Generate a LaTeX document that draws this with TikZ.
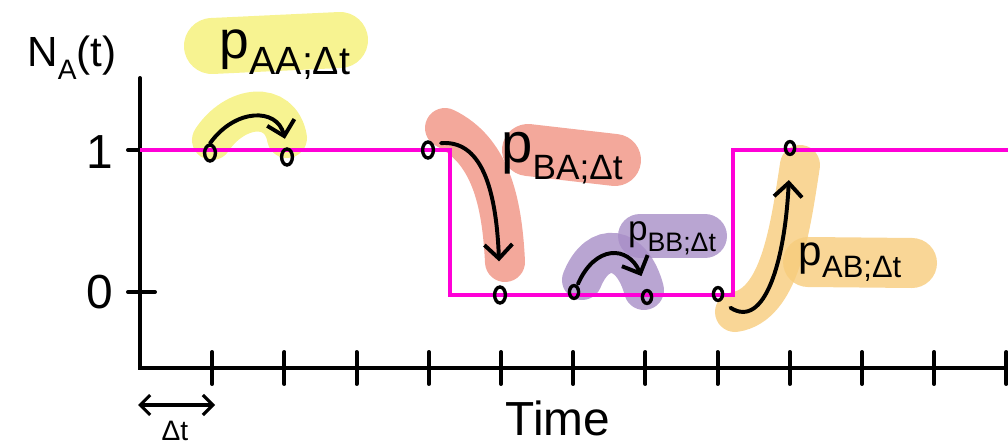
\documentclass[tikz,border=0pt]{standalone}
\usepackage{fontspec}
\setmainfont{Liberation Sans}
\usetikzlibrary{arrows.meta,shapes.geometric}
\definecolor{magline}{RGB}{255,0,215}
\definecolor{hlyellow}{RGB}{245,240,118}
\definecolor{hlred}{RGB}{240,146,130}
\definecolor{hlpurple}{RGB}{168,142,199}
\definecolor{hlorange}{RGB}{247,204,124}
\newcommand{\fsz}[1]{\fontsize{#1}{#1}\selectfont}
\newcommand{\plab}[3]{{\fsz{#2}p\raisebox{-0.3em}{\fsz{#3}#1}}}

\begin{document}
\begin{tikzpicture}[x=0.025cm,y=-0.025cm,
    hl/.style={line width=1cm,line cap=round,opacity=0.8},
    axis/.style={line width=2.8pt,line cap=round},
    signal/.style={magline,line width=2.6pt},
    jump/.style={line width=2.8pt,line cap=round,
      -{Straight Barb[length=3.5mm,width=7mm,line width=2.8pt]}},
    state/.style={draw,ellipse,line width=2.4pt,inner sep=0pt,
      minimum width=0.27cm,minimum height=0.4cm}]
      \useasboundingbox (0,0) rectangle (1008,445);
      % highlighter strokes
      \draw[hl,hlyellow,line width=1.4cm] (212,46) -- (340,40);
      \draw[hl,hlyellow] (212,140) .. controls (235,105) and (280,100) .. (287,138);
      \draw[hl,hlred] (445,128) .. controls (490,150) and (502,200) .. (505,262);
      \draw[hl,hlred,line width=1.3cm] (528,150) -- (615,160);
      \draw[hl,hlpurple] (582,280) .. controls (598,240) and (632,245) .. (644,290);
      \draw[hl,hlpurple,line width=1.1cm] (640,236) -- (705,236);
      \draw[hl,hlorange] (735,312) .. controls (780,305) and (790,230) .. (800,165);
      \draw[hl,hlorange,line width=1.25cm] (808,262) -- (912,263);
      % axes
      \coordinate (ytop) at (140,78);
      \coordinate (xend) at (1008,368);
      \draw[axis] (ytop) |- (xend);
      \foreach \i in {1,...,12}
        \draw[axis] (140+72.2*\i,352) -- (140+72.2*\i,384);
      \draw[axis] (128,150) -- (155,150);
      \draw[axis] (128,292) -- (155,292);
      \node (one) at (100,152) {\fsz{34}1};
      \node (zero) at (100,292) {\fsz{34}0};
      \node (ylab) at (72,58) {\fsz{30}N\raisebox{-0.3em}{\fsz{20}A}(t)};
      \node (xlab) at (558,418) {\fsz{34}Time};
      % time step
      \coordinate (dl) at (138,405);
      \coordinate (dr) at (215,405);
      \draw[line width=2.4pt,{Straight Barb[length=2.5mm,width=5mm,line width=2.2pt]}-{Straight Barb[length=2.5mm,width=5mm,line width=2.2pt]}] (dl) -- (dr);
      \node (dtlab) at (175,431) {\fsz{20}Δt};
      % N_A(t)
      \coordinate (hi0) at (140,150);
      \coordinate (drop) at (450,150);
      \coordinate (low) at (450,295);
      \coordinate (rise) at (733,295);
      \coordinate (hi1) at (733,150);
      \coordinate (hiend) at (1008,150);
      \draw[signal] (hi0) -- (drop) -- (low) -- (rise) -- (hi1) -- (hiend);
      % states
      \node[state] (s1) at (210,153) {};
      \node[state] (s2) at (287,157) {};
      \node[state] (s3) at (428,150) {};
      \node[state] (s4) at (500,295) {};
      \node[state,minimum width=0.23cm,minimum height=0.32cm] (s5) at (574,292) {};
      \node[state,minimum width=0.23cm,minimum height=0.32cm] (s6) at (647,297) {};
      \node[state,minimum width=0.23cm,minimum height=0.32cm] (s7) at (718,294) {};
      \node[state,minimum width=0.23cm,minimum height=0.32cm] (s8) at (790,148) {};
      % transitions
      \draw[jump,shorten >=2.2mm] (s1.north) .. controls +(25,-35) and +(-10,-40) .. (s2.north);
      \draw[jump,shorten >=6mm] ([xshift=2mm]s3.north east) .. controls (480,140) and (496,185) .. (s4.north);
      \draw[jump,shorten >=3.5mm] ([xshift=1mm]s5.north) .. controls (595,245) and (628,245) .. (s6.north);
      \draw[jump,shorten >=6mm] ([xshift=2mm,yshift=-2mm]s7.south east) .. controls (765,330) and (785,260) .. (s8.south);
      \node (pAA) at (285,55) {\plab{AA;Δt}{38}{28}};
      \node (pBA) at (562,158) {\plab{BA;Δt}{40}{25}};
      \node (pBB) at (672,238) {\plab{BB;Δt}{25}{19}};
      \node (pAB) at (850,262) {\plab{AB;Δt}{30}{22}};
    \end{tikzpicture}
\end{document}
